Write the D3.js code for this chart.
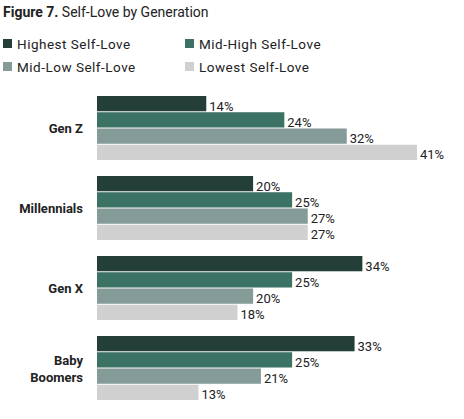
<!DOCTYPE html>
<html>
<head>
<meta charset="utf-8">
<script src="https://cdn.jsdelivr.net/npm/d3@7"></script>
<style>
  body { margin: 0; background: #fff; font-family: "Roboto", "Open Sans", sans-serif; }
</style>
</head>
<body>
<div id="chart"></div>
<script>
// Chart data
const generations = ["Gen Z", "Millennials", "Gen X", "Baby Boomers"];
const seriesNames = ["Highest Self-Love", "Mid-High Self-Love", "Mid-Low Self-Love", "Lowest Self-Love"];
const highest = [14, 20, 34, 33];
const midHigh = [24, 25, 25, 25];
const midLow = [32, 27, 20, 21];
const lowest = [41, 27, 18, 13];
const colors = ["#243f37", "#3b7264", "#849b97", "#d0d0d0"];

const width = 464, height = 419;
const series = [highest, midHigh, midLow, lowest];

const svg = d3.select("#chart").append("svg")
    .attr("width", width)
    .attr("height", height);

// Title
const title = svg.append("text")
    .attr("x", 3).attr("y", 17)
    .style("font-size", "14px")
    .style("fill", "#222");
title.append("tspan").style("font-weight", "bold").text("Figure 7.");
title.append("tspan").text(" Self-Love by Generation");

// Legend
const legend = svg.append("g")
    .selectAll("g")
    .data(seriesNames)
    .join("g")
    .attr("transform", (d, i) => `translate(${3 + (i % 2) * 182},${39 + Math.floor(i / 2) * 23})`);
legend.append("rect")
    .attr("width", 9).attr("height", 9)
    .attr("fill", (d, i) => colors[i]);
legend.append("text")
    .attr("x", 14).attr("y", 10)
    .style("font-size", "13.5px")
    .style("letter-spacing", "0.5px")
    .style("fill", "#222")
    .text(d => d);

// Scales
const x = d3.scaleLinear().domain([0, 41]).range([97, 417]);
const y0 = d3.scaleBand().domain(generations).range([96, 416]).paddingInner(0);
const y1 = d3.scaleBand().domain(d3.range(4)).range([0, 64]).paddingInner(0.06);

const groups = svg.append("g")
    .selectAll("g")
    .data(generations)
    .join("g")
    .attr("transform", d => `translate(0,${y0(d)})`);

groups.selectAll("rect")
    .data((d, gi) => series.map((s, si) => ({ si, v: s[gi] })))
    .join("rect")
    .attr("x", x(0))
    .attr("y", d => y1(d.si))
    .attr("width", d => x(d.v) - x(0))
    .attr("height", y1.bandwidth())
    .attr("fill", d => colors[d.si]);

groups.selectAll("text.val")
    .data((d, gi) => series.map((s, si) => ({ si, v: s[gi] })))
    .join("text")
    .attr("class", "val")
    .attr("x", d => x(d.v) + 3)
    .attr("y", d => y1(d.si) + y1.bandwidth() / 2 + 7)
    .style("font-size", "13px")
    .style("fill", "#222")
    .text(d => d.v + "%");

// Category labels
groups.append("text")
    .attr("x", 83)
    .attr("text-anchor", "end")
    .style("font-size", "13px")
    .style("font-weight", "bold")
    .style("fill", "#222")
    .each(function (d) {
        const words = d === "Baby Boomers" ? ["Baby", "Boomers"] : [d];
        const t = d3.select(this);
        words.forEach((w, i) => {
            t.append("tspan")
                .attr("x", 83)
                .attr("y", 37 + (i - (words.length - 1) / 2) * 17)
                .text(w);
        });
    });
</script>
</body>
</html>
